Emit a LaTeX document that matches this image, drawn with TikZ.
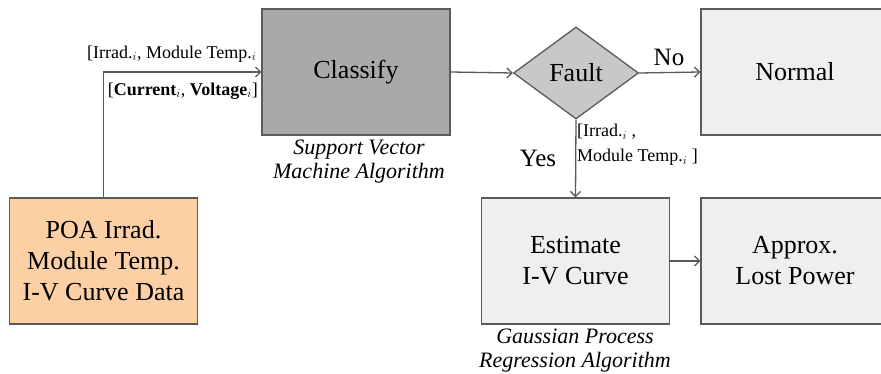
\documentclass[tikz,border=0pt]{standalone}
\usepackage{fontspec}
\setmainfont{Liberation Serif}
\usetikzlibrary{arrows.meta,shapes.geometric}
\definecolor{edgec}{HTML}{5A5A5A}
\definecolor{darkbox}{HTML}{A9A9A9}
\definecolor{diafill}{HTML}{C8C8C8}
\definecolor{lightbox}{HTML}{EFEFEF}
\definecolor{peach}{HTML}{FCD0A4}
\tikzset{
  box/.style={draw=edgec, line width=1.3pt, minimum width=188pt, minimum height=126pt, inner sep=0pt, align=center, font=\fontsize{26}{31}\selectfont},
  dia/.style={diamond, draw=edgec, line width=1.3pt, fill=diafill, minimum width=125pt, minimum height=92pt, inner sep=0pt, font=\fontsize{26}{31}\selectfont},
  conn/.style={draw=edgec, line width=1.3pt, -{Straight Barb[length=5pt,width=10pt]}},
  captext/.style={align=center, font=\fontsize{22}{24}\itshape\selectfont, inner sep=0pt},
  lbl/.style={font=\fontsize{18}{25}\selectfont, inner sep=0pt, align=left},
  yn/.style={font=\fontsize{25}{30}\selectfont, inner sep=0pt}
}
\begin{document}
\begin{tikzpicture}[x=1pt,y=-1pt]
\useasboundingbox (0,0) rectangle (881,374);
\node[box, fill=darkbox] (cls) at (356,72) {Classify};
\node[box, fill=lightbox] (nrm) at (795,72) {Normal};
\node[dia] (flt) at (576,73) {Fault};
\node[box, fill=lightbox] (est) at (575.5,261) {Estimate\\I-V Curve};
\node[box, fill=lightbox] (apx) at (795,261) {Approx.\\Lost Power};
\node[box, fill=peach] (poa) at (103.5,261) {POA Irrad.\\Module Temp.\\I-V Curve Data};
\draw[conn] (poa.north) |- (cls.west);
\draw[conn] (cls.east) -- (flt.west);
\draw[conn] (flt.east) -- (nrm.west);
\draw[conn] (flt.south) -- (est.north);
\draw[conn] (est.east) -- (apx.west);
\node[lbl, anchor=west] (l1) at (87,54) {[Irrad.$_i$, Module Temp.$_i$};
\node[lbl, anchor=east] (l2) at (258,91) {[\textbf{Current}$_i$, \textbf{Voltage}$_i$]};
\node[lbl, anchor=north west] (l3) at (577,124) {[Irrad.$_i$ ,\\Module Temp.$_i$ ]};
\node[yn] (yes) at (538,158) {Yes};
\node[yn] (no) at (669,57) {No};
\node[captext] (c1) at (359,162) {Support Vector\\Machine Algorithm};
\node[captext] (c2) at (575,351) {Gaussian Process\\Regression Algorithm};
\end{tikzpicture}
\end{document}
